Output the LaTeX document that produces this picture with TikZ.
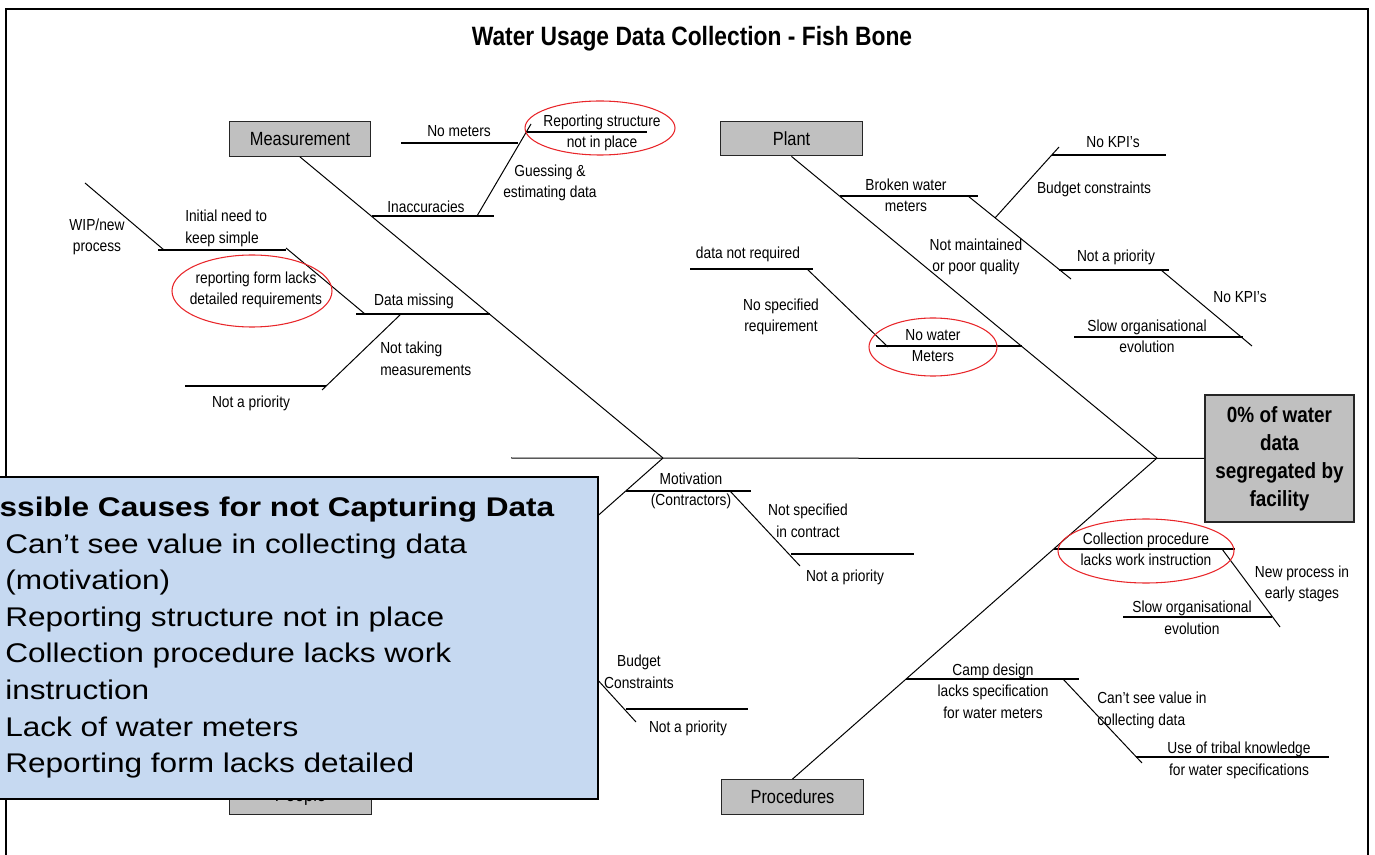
\documentclass[tikz,border=0pt]{standalone}
\usepackage{fontspec}
\setmainfont{Liberation Sans}[FakeStretch=0.86]
\newfontfamily\notefont{Liberation Sans}[FakeStretch=1.17]
\definecolor{boxgray}{HTML}{C0C0C0}
\definecolor{noteblue}{HTML}{C6D9F1}
\definecolor{ringred}{HTML}{E8262A}

\begin{document}
\begin{tikzpicture}[
  x=0.75pt, y=-0.75pt,
  lbl/.style={inner sep=0pt, align=center, font=\fontsize{12}{16.1}\selectfont},
  catbox/.style={draw=black!85, fill=boxgray, line width=0.9pt, inner sep=0pt,
                 minimum width=106pt, minimum height=26pt,
                 font=\fontsize{14.3}{17}\selectfont},
  bone/.style={line width=0.75pt},
  rib/.style={line width=1.1pt},
  ring/.style={draw=ringred, line width=0.8pt},
  note/.style={inner sep=0pt, font=\notefont\fontsize{20.25}{27}\selectfont}
]
\useasboundingbox (0,0) rectangle (1375,855);

% ---- Frame and title ----
\draw[line width=1.5pt] (6,9) rectangle (1368,900);
\node[font=\fontsize{19.9}{24}\selectfont\bfseries, inner sep=0pt] (title) at (692,38.5)
  {Water Usage Data Collection - Fish Bone};

% ---- Category boxes and effect ----
\node[catbox] (meas)   at (300,139)   {Measurement};
\node[catbox] (plant)  at (791.5,138.5) {Plant};
\node[catbox] (people) at (300.5,797) {People};
\node[catbox] (proc)   at (792.5,797) {Procedures};
\node[catbox, minimum width=111.75pt, minimum height=95.25pt,
      font=\fontsize{16.5}{21}\selectfont\bfseries, align=center] (effect) at (1279.5,458.5)
  {0\% of water\\data\\segregated by\\facility};

% ---- Spine and main bones ----
\coordinate (tail)  at (511,458);
\coordinate (mjoin) at (663,458);
\coordinate (pjoin) at (1157,458);
\draw[bone] (tail) -- (effect.west);
\draw[bone] (meas.south) -- (mjoin);
\draw[bone] (plant.south) -- (pjoin);
\draw[bone] (mjoin) -- (people.north);
\draw[bone] (pjoin) -- (proc.north);

% ---- Measurement ----
\draw[rib] (401,143) -- (518,143);
\draw[rib] (372,216) -- (494,216);
\draw[bone] (477,216) -- (531,124);
\draw[rib] (527,132) -- (647,132);
\draw[rib] (158,250) -- (286,250);
\draw[bone] (85,183) -- (164,250);
\draw[bone] (286,248) -- (365,314);
\draw[rib] (356,314) -- (490,314);
\draw[bone] (401,314) -- (322,390);
\draw[rib] (185,386) -- (326,386);

\node[lbl] (nometers) at (459,131) {No meters};
\node[lbl] (repstruct) at (602,133) {Reporting structure\\not in place};
\node[lbl] (guess) at (550,183) {Guessing \&\\estimating data};
\node[lbl] (inacc) at (426,207) {Inaccuracies};
\node[lbl, anchor=west, align=left] (initneed) at (185,228.5) {Initial need to\\keep simple};
\node[lbl] (wip) at (97,237) {WIP/new\\process};
\node[lbl] (repform) at (256,290) {reporting form lacks\\detailed requirements};
\node[lbl] (datamiss) at (414,301) {Data missing};
\node[lbl, anchor=west, align=left] (nottaking) at (380,359) {Not taking\\measurements};
\node[lbl] (mprio) at (251,403) {Not a priority};

\draw[ring] (600,128) ellipse [x radius=75, y radius=27];
\draw[ring] (252,291) ellipse [x radius=80, y radius=36];

% ---- Plant ----
\draw[rib] (840,196) -- (978,196);
\draw[bone] (968,196) -- (1071,279);
\draw[bone] (995,218) -- (1059,147);
\draw[rib] (1052,155) -- (1166,155);
\draw[rib] (1059,270) -- (1169,270);
\draw[bone] (1161,270) -- (1252,346);
\draw[rib] (1074,337) -- (1243,337);
\draw[rib] (690,269) -- (813,269);
\draw[bone] (807,269) -- (888,347);
\draw[rib] (876,346) -- (1022,346);

\node[lbl] (broken) at (906,195.5) {Broken water\\meters};
\node[lbl] (kpi1) at (1113,142) {No KPI's};
\node[lbl] (budget1) at (1094,189) {Budget constraints};
\node[lbl] (notmaint) at (976,257) {Not maintained\\or poor quality};
\node[lbl] (pprio) at (1116,257) {Not a priority};
\node[lbl] (kpi2) at (1240,297) {No KPI's};
\node[lbl] (slow1) at (1147,336.5) {Slow organisational\\evolution};
\node[lbl] (notreq) at (748,254) {data not required};
\node[lbl] (nospec) at (781,317) {No specified\\requirement};
\node[lbl] (nowater) at (933,345.5) {No water\\Meters};

\draw[ring] (933,347) ellipse [x radius=64, y radius=29];

% ---- People ----
\draw[rib] (626,491) -- (751,491);
\draw[bone] (730,491) -- (800,566);
\draw[rib] (791,554) -- (914,554);
\draw[bone] (575,655) -- (636,722);
\draw[rib] (626,709) -- (748,709);

\node[lbl] (motiv) at (691,491) {Motivation\\(Contractors)};
\node[lbl] (notspec) at (808,521) {Not specified\\in contract};
\node[lbl] (cprio) at (845,577) {Not a priority};
\node[lbl] (budget2) at (639,672) {Budget\\Constraints};
\node[lbl] (bprio) at (688,728) {Not a priority};

% ---- Procedures ----
\draw[rib] (1054,549) -- (1235,549);
\draw[bone] (1222,549) -- (1280,627);
\draw[rib] (1123,617) -- (1272,617);
\draw[rib] (906,679) -- (1079,679);
\draw[bone] (1063,679) -- (1142,763);
\draw[rib] (1136,757) -- (1329,757);

\node[lbl] (collect) at (1146,549.5) {Collection procedure\\lacks work instruction};
\node[lbl] (newproc) at (1302,584) {New process in\\early stages};
\node[lbl] (slow2) at (1192,618) {Slow organisational\\evolution};
\node[lbl] (camp) at (993,691) {Camp design\\lacks specification\\for water meters};
\node[lbl, anchor=west, align=left] (cantsee) at (1097,710.5) {Can't see value in\\collecting data};
\node[lbl] (tribal) at (1239,760.5) {Use of tribal knowledge\\for water specifications};

\draw[ring] (1146,551) ellipse [x radius=88, y radius=32];

% ---- Callout ----
\draw[line width=1.5pt, fill=noteblue] (-60,477) rectangle (598,799);
\node[note, anchor=base west, font=\notefont\fontsize{20.25}{27}\selectfont\bfseries] (notehead) at (-41,517)
  {Possible Causes for not Capturing Data};
\foreach \txt [count=\i] in {Can’t see value in collecting data, (motivation),
    Reporting structure not in place, Collection procedure lacks work, instruction,
    Lack of water meters, Reporting form lacks detailed}
  \node[note, anchor=base west] (cause\i) at (5,{553+36.6*(\i-1)}) {\txt};

\end{tikzpicture}
\end{document}
